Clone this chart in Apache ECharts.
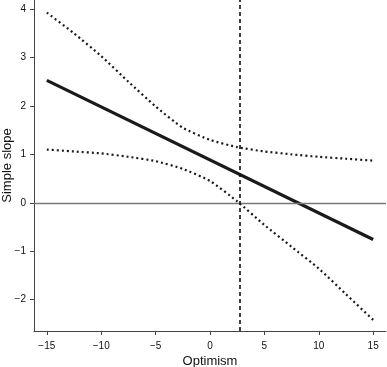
<!DOCTYPE html>
<html>
<head>
<meta charset="utf-8">
<script src="https://cdn.jsdelivr.net/npm/echarts@6/dist/echarts.min.js"></script>
<style>
  html, body { margin: 0; padding: 0; background: #fff; }
  #chart { width: 387px; height: 367px; }
</style>
</head>
<body>
<div id="chart"></div>
<script>
// values
var optimism = [-15, -12.5, -10, -7.5, -5, -2.5, 0, 2.5, 5, 7.5, 10, 12.5, 15];
var upperBand = [3.93, 3.5, 3.03, 2.5, 1.99, 1.55, 1.3, 1.15, 1.06, 1.0, 0.95, 0.91, 0.87];
var lowerBand = [1.1, 1.06, 1.02, 0.95, 0.86, 0.7, 0.45, 0.03, -0.46, -0.91, -1.36, -1.89, -2.42];
var slopeX = [-15, 15];
var slopeY = [2.53, -0.76];
var xTicks = [-15, -10, -5, 0, 5, 10, 15];
var yTicks = [-2, -1, 0, 1, 2, 3, 4];
var regionMark = 2.7;

function pairs(xs, ys) {
  return xs.map(function (x, i) { return [x, ys[i]]; });
}
function minus(v) {
  return String(v).replace("-", "\u2212");
}

var dom = echarts.init(document.getElementById("chart"));
var axisColor = "#444";
var font = "Liberation Sans, Arial, sans-serif";

var option = {
  animation: false,
  grid: {
    left: 34,
    right: 1,
    top: 0,
    bottom: 36,
    outerBoundsMode: "none",
    containLabel: false
  },
  xAxis: {
    type: "value",
    min: -16.18,
    max: 16.18,
    name: "Optimism",
    nameLocation: "middle",
    nameGap: 24,
    nameMoveOverlap: false,
    nameTextStyle: { color: "#111", fontSize: 13, fontFamily: font },
    splitLine: { show: false },
    axisLine: { onZero: false, lineStyle: { color: axisColor, width: 1 } },
    axisTick: {
      customValues: xTicks,
      length: 4,
      lineStyle: { color: axisColor }
    },
    axisLabel: {
      customValues: xTicks,
      margin: 10,
      color: "#111",
      fontSize: 10,
      fontFamily: font,
      formatter: minus
    }
  },
  yAxis: {
    type: "value",
    min: -2.65,
    max: 4.19,
    name: "Simple slope",
    nameLocation: "middle",
    nameGap: 20,
    nameMoveOverlap: false,
    nameTextStyle: { color: "#111", fontSize: 13, fontFamily: font },
    splitLine: { show: false },
    axisLine: { show: true, onZero: false, lineStyle: { color: axisColor, width: 1 } },
    axisTick: {
      show: true,
      customValues: yTicks,
      length: 4,
      lineStyle: { color: axisColor }
    },
    axisLabel: {
      customValues: yTicks,
      margin: 8,
      color: "#111",
      fontSize: 10,
      fontFamily: font,
      formatter: minus
    }
  },
  series: [
    {
      type: "line",
      data: pairs(optimism, upperBand),
      showSymbol: false,
      smooth: 0.2,
      lineStyle: { color: "#1a1a1a", width: 2.2, type: [2, 3] },
      z: 3
    },
    {
      type: "line",
      data: pairs(optimism, lowerBand),
      showSymbol: false,
      smooth: 0.2,
      lineStyle: { color: "#1a1a1a", width: 2.2, type: [2, 3] },
      z: 3
    },
    {
      type: "line",
      data: pairs(slopeX, slopeY),
      showSymbol: false,
      lineStyle: { color: "#1a1a1a", width: 3.2 },
      z: 4,
      markLine: {
        silent: true,
        symbol: "none",
        label: { show: false },
        data: [
          { yAxis: 0, lineStyle: { color: "#777", width: 1.3, type: "solid" } },
          { xAxis: regionMark, lineStyle: { color: "#111", width: 1.6, type: [4, 3] } }
        ]
      }
    }
  ]
};

dom.setOption(option);
</script>
</body>
</html>
